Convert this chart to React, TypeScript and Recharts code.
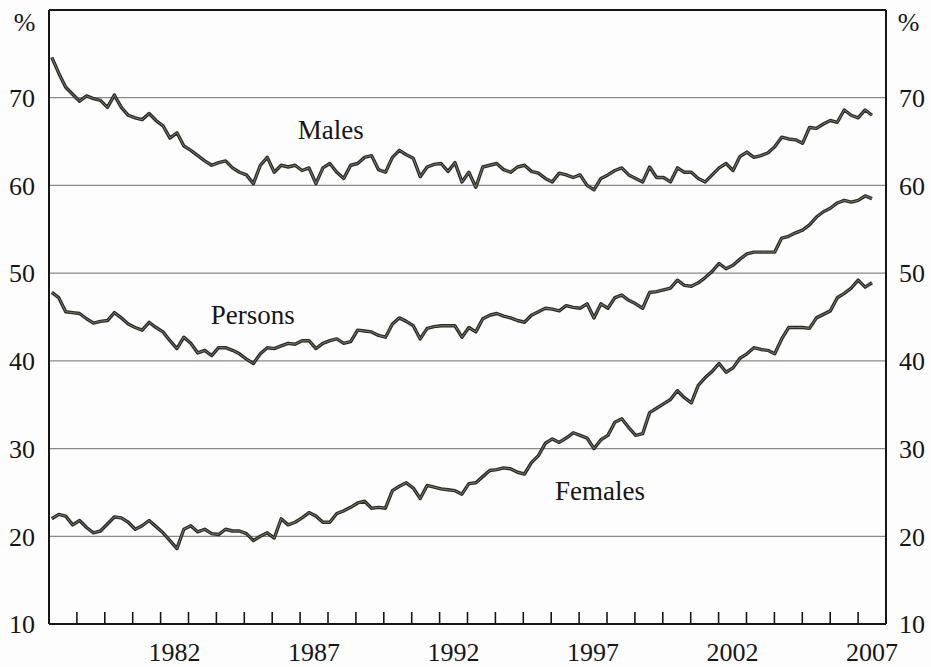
import React from 'react';
import { LineChart, Line, XAxis, YAxis, CartesianGrid, ReferenceLine, ReferenceDot } from 'recharts';

// quarterly readings, Feb 1978 to mid 2007
const START_YEAR = 1978.1;
const END_YEAR = 2007.5;

const males = [
  74.6, 72.8, 71.2, 70.4,
  69.6, 70.2, 69.9, 69.7,
  68.9, 70.3, 68.9, 68.0,
  67.7, 67.5, 68.2, 67.4,
  66.8, 65.4, 66.0, 64.5,
  64.0, 63.4, 62.8, 62.3,
  62.6, 62.8, 62.0, 61.5,
  61.2, 60.2, 62.3, 63.2,
  61.5, 62.3, 62.1, 62.3,
  61.7, 62.0, 60.2, 62.0,
  62.5, 61.5, 60.8, 62.3,
  62.5, 63.2, 63.4, 61.8,
  61.5, 63.2, 64.0, 63.5,
  63.1, 61.0, 62.1, 62.4,
  62.5, 61.6, 62.6, 60.4,
  61.5, 59.8, 62.1, 62.3,
  62.5, 61.8, 61.5, 62.1,
  62.3, 61.6, 61.4, 60.8,
  60.4, 61.4, 61.2, 60.9,
  61.2, 60.0, 59.5, 60.8,
  61.2, 61.7, 62.0, 61.2,
  60.8, 60.4, 62.1, 60.9,
  60.9, 60.4, 62.0, 61.5,
  61.5, 60.8, 60.4, 61.2,
  62.0, 62.5, 61.7, 63.3,
  63.8, 63.2, 63.4, 63.7,
  64.4, 65.5, 65.3, 65.2,
  64.8, 66.6, 66.5, 67.0,
  67.4, 67.2, 68.6, 68.0,
  67.7, 68.6, 68.0,
];

const persons = [
  47.8, 47.2, 45.6, 45.5,
  45.4, 44.8, 44.3, 44.5,
  44.6, 45.5, 44.9, 44.2,
  43.8, 43.5, 44.4, 43.8,
  43.3, 42.3, 41.4, 42.7,
  42.0, 40.9, 41.2, 40.6,
  41.5, 41.5, 41.2, 40.8,
  40.2, 39.7, 40.8, 41.5,
  41.4, 41.7, 42.0, 41.9,
  42.3, 42.3, 41.4, 42.0,
  42.3, 42.5, 42.0, 42.2,
  43.5, 43.4, 43.3, 42.9,
  42.7, 44.2, 44.9, 44.5,
  44.0, 42.5, 43.7, 43.9,
  44.0, 44.0, 44.0, 42.7,
  43.8, 43.3, 44.8, 45.2,
  45.4, 45.1, 44.9, 44.6,
  44.4, 45.2, 45.6, 46.0,
  45.9, 45.7, 46.3, 46.1,
  46.0, 46.5, 44.9, 46.5,
  46.0, 47.2, 47.5, 46.9,
  46.5, 46.0, 47.8, 47.9,
  48.1, 48.3, 49.2, 48.6,
  48.5, 48.9, 49.5, 50.2,
  51.1, 50.5, 50.9, 51.6,
  52.2, 52.4, 52.4, 52.4,
  52.4, 54.0, 54.2, 54.6,
  54.9, 55.5, 56.4, 57.0,
  57.4, 58.0, 58.3, 58.1,
  58.3, 58.8, 58.5,
];

const females = [
  22.0, 22.5, 22.3, 21.3,
  21.8, 21.0, 20.4, 20.6,
  21.4, 22.2, 22.1, 21.6,
  20.8, 21.2, 21.8, 21.1,
  20.4, 19.5, 18.6, 20.8,
  21.2, 20.5, 20.8, 20.3,
  20.2, 20.8, 20.6, 20.6,
  20.3, 19.5, 20.0, 20.4,
  19.8, 22.0, 21.3, 21.6,
  22.1, 22.7, 22.3, 21.6,
  21.6, 22.6, 22.9, 23.3,
  23.8, 24.0, 23.2, 23.3,
  23.2, 25.2, 25.7, 26.1,
  25.5, 24.3, 25.8, 25.6,
  25.4, 25.3, 25.2, 24.8,
  26.0, 26.1, 26.8, 27.5,
  27.6, 27.8, 27.7, 27.3,
  27.1, 28.4, 29.2, 30.6,
  31.1, 30.7, 31.2, 31.8,
  31.5, 31.2, 30.0, 31.0,
  31.5, 33.0, 33.4, 32.4,
  31.5, 31.7, 34.1, 34.6,
  35.1, 35.6, 36.6, 35.8,
  35.2, 37.2, 38.1, 38.8,
  39.7, 38.7, 39.2, 40.3,
  40.8, 41.5, 41.3, 41.2,
  40.8, 42.5, 43.8, 43.8,
  43.8, 43.7, 44.9, 45.3,
  45.7, 47.2, 47.7, 48.3,
  49.2, 48.4, 48.9,
];

const yearTicks = [
  1979, 1980, 1981, 1982, 1983, 1984, 1985, 1986, 1987, 1988,
  1989, 1990, 1991, 1992, 1993, 1994, 1995, 1996, 1997, 1998,
  1999, 2000, 2001, 2002, 2003, 2004, 2005, 2006, 2007,
];
// labels sit in the middle of each labelled year
const yearLabels = [1982.5, 1987.5, 1992.5, 1997.5, 2002.5, 2007.5];
const yTicks = [10, 20, 30, 40, 50, 60, 70];

const seriesLabels = [
  { name: 'Males', x: 1988.1, y: 66.4 },
  { name: 'Persons', x: 1985.3, y: 45.3 },
  { name: 'Females', x: 1997.75, y: 25.2 },
];

const step = (END_YEAR - START_YEAR) / (males.length - 1);
const chartData = males.map((m, i) => ({
  t: START_YEAR + i * step,
  lab: START_YEAR + i * step,
  males: m,
  persons: persons[i],
  females: females[i],
}));

const FONT = '"Liberation Serif", "Times New Roman", serif';
const INK = '#161616';
const seriesKeys = ['males', 'persons', 'females'];

export default function App() {
  return (
    <div style={{ position: 'absolute', left: 0, top: 0, width: 931, height: 667, background: '#fdfdfd' }}>
      <LineChart
        width={931}
        height={667}
        data={chartData}
        margin={{ top: 10, right: 0, bottom: 0, left: 0 }}
        style={{ fontFamily: FONT }}
      >
        <CartesianGrid xAxisId="main" yAxisId="l" vertical={false} stroke="#8a8a8a" strokeWidth={1.2} />
        <XAxis
          xAxisId="main"
          dataKey="t"
          type="number"
          domain={[1978, 2008]}
          allowDataOverflow
          ticks={yearTicks}
          interval={0}
          mirror
          height={1}
          tickSize={12}
          tickFormatter={() => ''}
          tickLine={{ stroke: INK, strokeWidth: 1.6 }}
          axisLine={{ stroke: INK, strokeWidth: 2 }}
        />
        <XAxis
          xAxisId="lab"
          dataKey="lab"
          type="number"
          domain={[1978, 2008]}
          allowDataOverflow
          ticks={yearLabels}
          interval={0}
          height={43}
          axisLine={false}
          tickLine={false}
          tickSize={0}
          tickMargin={19}
          tickFormatter={(v: number) => String(Math.floor(v))}
          tick={{ fill: INK, fontSize: 26, fontFamily: FONT }}
        />
        <YAxis
          yAxisId="l"
          type="number"
          domain={[10, 80]}
          allowDataOverflow
          ticks={yTicks}
          interval={0}
          width={49}
          tickLine={false}
          tickSize={0}
          tickMargin={14}
          axisLine={{ stroke: INK, strokeWidth: 2 }}
          tick={{ fill: INK, fontSize: 26, fontFamily: FONT }}
          label={{ value: '%', position: 'insideTop', offset: 3, fill: INK, fontSize: 26, fontFamily: FONT }}
        />
        <YAxis
          yAxisId="r"
          orientation="right"
          type="number"
          domain={[10, 80]}
          allowDataOverflow
          ticks={yTicks}
          interval={0}
          width={45}
          tickLine={false}
          tickSize={0}
          tickMargin={13}
          axisLine={{ stroke: INK, strokeWidth: 2 }}
          tick={{ fill: INK, fontSize: 26, fontFamily: FONT }}
          label={{ value: '%', position: 'insideTop', offset: 3, fill: INK, fontSize: 26, fontFamily: FONT }}
        />
        <ReferenceLine xAxisId="main" yAxisId="l" y={80} stroke={INK} strokeWidth={2} />
        {/* invisible series so the label axis has data to scale against */}
        <Line
          xAxisId="lab"
          yAxisId="r"
          dataKey="males"
          stroke="none"
          dot={false}
          activeDot={false}
          isAnimationActive={false}
        />
        {seriesKeys.map((k) => (
          <Line
            key={k + '-edge'}
            xAxisId="main"
            yAxisId="l"
            dataKey={k}
            type="linear"
            stroke="#2b2b27"
            strokeWidth={3.4}
            strokeLinejoin="round"
            dot={false}
            isAnimationActive={false}
          />
        ))}
        {seriesKeys.map((k) => (
          <Line
            key={k + '-core'}
            xAxisId="main"
            yAxisId="l"
            dataKey={k}
            type="linear"
            stroke="#7d7b6c"
            strokeWidth={1}
            strokeLinejoin="round"
            dot={false}
            isAnimationActive={false}
          />
        ))}
        {seriesLabels.map((s) => (
          <ReferenceDot
            key={s.name}
            xAxisId="main"
            yAxisId="l"
            x={s.x}
            y={s.y}
            r={0}
            fill="none"
            stroke="none"
            label={{ value: s.name, position: 'center', fill: INK, fontSize: 27, fontFamily: FONT }}
          />
        ))}
      </LineChart>
    </div>
  );
}
